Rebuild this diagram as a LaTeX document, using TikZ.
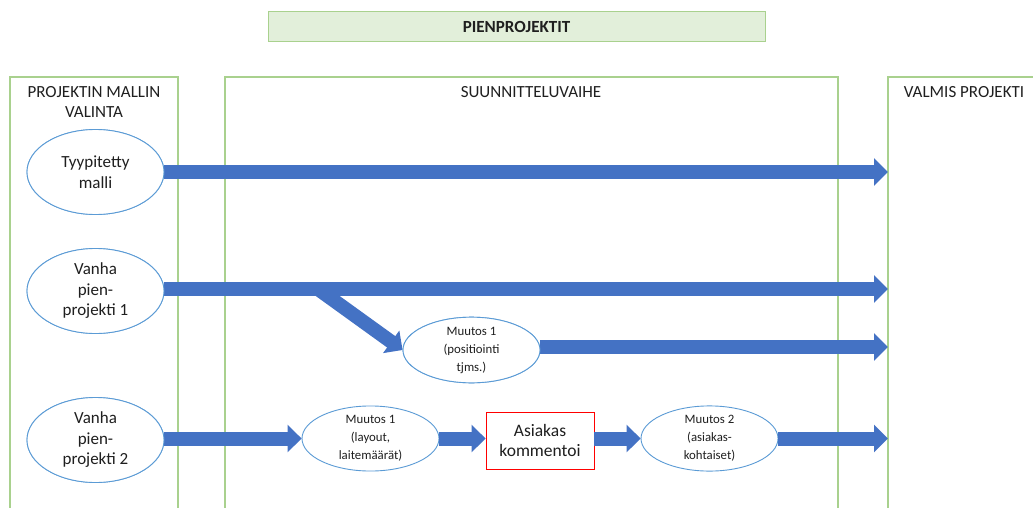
\documentclass[tikz,border=0pt]{standalone}
\usepackage{fontspec}
\setmainfont{Carlito}
\usetikzlibrary{shapes.geometric,arrows.meta}
\definecolor{flowblue}{HTML}{4472C4}
\definecolor{ovalblue}{HTML}{5B9BD5}
\definecolor{phasegreen}{HTML}{A9D18E}
\definecolor{titlefill}{HTML}{E2EFDA}
\definecolor{boxred}{HTML}{FF0000}
\definecolor{ink}{HTML}{1F1F1F}
\tikzset{
  phase/.style={draw=phasegreen, line width=1.1pt},
  phaselabel/.style={text=ink, align=center, inner sep=0pt, font=\fontsize{17}{20}\selectfont},
  bigoval/.style={ellipse, draw=ovalblue, fill=white, line width=0.9pt, inner sep=0pt,
    minimum width=137pt, minimum height=85pt, align=center, text=ink,
    font=\fontsize{17}{20.5}\selectfont},
  smalloval/.style={ellipse, draw=ovalblue, fill=white, line width=0.9pt, inner sep=0pt,
    minimum width=137pt, minimum height=65pt, align=center, text=ink,
    font=\fontsize{12.8}{18}\selectfont},
  commentbox/.style={rectangle, draw=boxred, fill=white, line width=0.9pt, inner sep=0pt,
    minimum width=108pt, minimum height=57pt, align=center, text=ink,
    font=\fontsize{17.5}{20.5}\selectfont},
  flow/.style={draw=flowblue, line width=14pt,
    -{Triangle[width=27pt,length=14pt]}, flowblue},
}
\begin{document}
\begin{tikzpicture}[x=1pt,y=-1pt]
\useasboundingbox (0,0) rectangle (1033,508);
\clip (0,0) rectangle (1033,508);

% title banner
\node[draw=phasegreen, fill=titlefill, line width=1pt, minimum width=497pt, minimum height=30pt,
  inner sep=0pt, font=\fontsize{17}{18}\selectfont\bfseries, text=ink] (title) at (516.5,27) {PIENPROJEKTIT};

% phase columns (open at the bottom)
\draw[phase] (10,520) -- (10,77) -- (178,77) -- (178,520);
\draw[phase] (225,520) -- (225,77) -- (838,77) -- (838,520);
\draw[phase] (888,520) -- (888,77) -- (1040,77);

\node[phaselabel] (hsel) at (94,102) {PROJEKTIN MALLIN\\VALINTA};
\node[phaselabel] (hplan) at (531,92) {SUUNNITTELUVAIHE};
\node[phaselabel] (hdone) at (964,92) {VALMIS PROJEKTI};

% start models
\node[bigoval] (typ) at (95.5,172) {Tyypitetty\\malli};
\node[bigoval] (old1) at (95.5,291) {Vanha\\pien-\\projekti 1};
\node[bigoval] (old2) at (95.5,440) {Vanha\\pien-\\projekti 2};

% changes
\node[smalloval] (chg1a) at (471.5,350) {Muutos 1\\(positiointi\\tjms.)};
\node[smalloval] (chg1b) at (370.5,438.5) {Muutos 1\\(layout,\\laitemäärät)};
\node[commentbox] (cust) at (540,440.5) {Asiakas\\kommentoi};
\node[smalloval] (chg2) at (709.5,438.5) {Muutos 2\\(asiakas-\\kohtaiset)};

% flow targets at the finished-project column
\coordinate (end1) at (888,172);
\coordinate (end2) at (888,289);
\coordinate (end3) at (888,347);
\coordinate (end4) at (888,438.5);
\coordinate (split) at (318,289);

% flows
\draw[flow] (typ.east) -- (end1);
\draw[flow] (old1.east |- end2) -- (end2);
\draw[flow] (split) -- (chg1a.west);
\draw[flow] (chg1a.east |- end3) -- (end3);
\draw[flow] (old2.east |- end4) -- (chg1b.west);
\draw[flow] (chg1b.east) -- (cust.west |- chg1b.east);
\draw[flow] (cust.east |- chg2.west) -- (chg2.west);
\draw[flow] (chg2.east) -- (end4);

% redraw ovals over flow ends
\node[bigoval] at (typ) {Tyypitetty\\malli};
\node[bigoval] at (old1) {Vanha\\pien-\\projekti 1};
\node[bigoval] at (old2) {Vanha\\pien-\\projekti 2};
\node[smalloval] at (chg1a) {Muutos 1\\(positiointi\\tjms.)};
\end{tikzpicture}
\end{document}
